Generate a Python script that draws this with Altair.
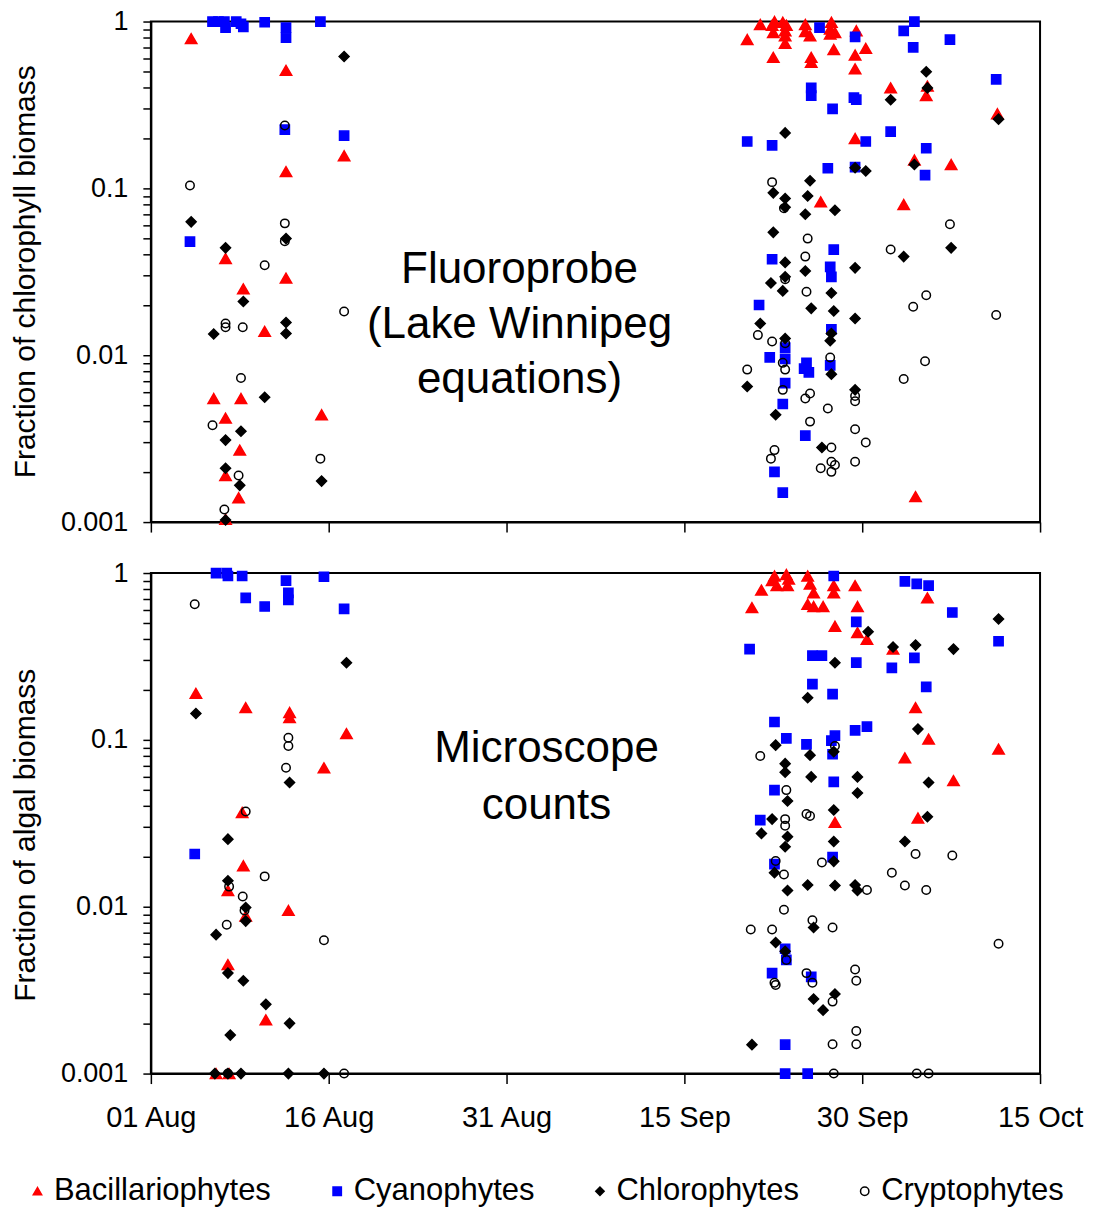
import altair as alt
import pandas as pd

SERIES = ["Bacillariophytes", "Cyanophytes", "Chlorophytes", "Cryptophytes"]

# x: days after 01 Aug ; y: fraction of biomass
xtick_days = [0, 15, 30, 45, 60, 75]
xtick_labels = ["01 Aug", "16 Aug", "31 Aug", "15 Sep", "30 Sep", "15 Oct"]
ytick_vals = [0.001, 0.002, 0.003, 0.004, 0.005, 0.006, 0.007, 0.008, 0.009,
              0.01, 0.02, 0.03, 0.04, 0.05, 0.06, 0.07, 0.08, 0.09,
              0.1, 0.2, 0.3, 0.4, 0.5, 0.6, 0.7, 0.8, 0.9, 1]
ytick_major = [0.001, 0.01, 0.1, 1]
ytick_major_labels = ["0.001", "0.01", "0.1", "1"]

# ---------------- Fluoroprobe (top) ----------------
fp_bac_day = [3.4, 11.4, 16.3, 11.4, 6.3, 11.4, 7.8, 9.6, 5.3, 7.6, 14.4, 6.3, 7.5, 6.3, 7.4, 6.3,
              51.4, 52.6, 52.4, 52.5, 53.3, 53.6, 53.5, 53.5, 53.5, 50.3, 52.5, 55.2, 55.2, 55.6, 55.7,
              55.7, 57.4, 57.3, 57.7, 57.3, 57.6, 59.5, 60.3, 59.4, 59.4, 56.5, 59.4, 62.4, 65.5, 65.4,
              71.4, 64.4, 67.5, 63.5, 64.5]
fp_bac_val = [0.79, 0.51, 0.157, 0.126, 0.038, 0.029, 0.025, 0.0139, 0.0055, 0.0055, 0.0044, 0.0042,
              0.0027, 0.0019, 0.0014, 0.00104,
              0.96, 1.0, 0.95, 0.86, 0.99, 0.95, 0.88, 0.82, 0.74, 0.78, 0.61, 0.96, 0.87, 0.82, 0.61,
              0.57, 0.99, 0.90, 0.86, 0.84, 0.68, 0.88, 0.69, 0.63, 0.52, 0.083, 0.199, 0.40, 0.41, 0.36,
              0.28, 0.148, 0.139, 0.080, 0.00142]

fp_cya_day = [5.2, 5.7, 6.2, 6.3, 7.2, 7.6, 7.8, 9.6, 11.4, 11.4, 14.3, 11.3, 16.3, 3.3,
              56.4, 59.4, 55.7, 55.7, 57.5, 59.3, 59.5, 50.3, 52.4, 60.3, 57.1, 59.4, 57.6, 52.4, 57.3,
              57.4, 51.3, 57.4, 52.2, 53.5, 55.3, 55.1, 55.5, 57.3, 53.5, 53.5, 53.3, 55.2, 52.6, 53.3,
              64.4, 63.5, 64.3, 67.4, 71.3, 62.4, 65.4, 65.3]
fp_cya_val = [1.0, 1.0, 1.0, 0.92, 1.0, 0.97, 0.93, 0.99, 0.92, 0.80, 1.0, 0.225, 0.207, 0.048,
              0.92, 0.81, 0.40, 0.36, 0.30, 0.35, 0.34, 0.191, 0.181, 0.191, 0.132, 0.134, 0.043, 0.0376,
              0.0338, 0.0295, 0.0200, 0.0143, 0.0097, 0.0095, 0.0090, 0.0083, 0.0079, 0.0087, 0.0111,
              0.0068, 0.0051, 0.0033, 0.0020, 0.0015,
              1.0, 0.88, 0.70, 0.78, 0.45, 0.219, 0.174, 0.120]

fp_chl_day = [16.3, 3.4, 11.4, 6.3, 7.8, 5.3, 11.4, 11.4, 9.6, 7.6, 6.3, 6.3, 14.4, 7.5, 6.3,
              53.5, 59.4, 60.3, 55.6, 52.5, 53.5, 53.5, 55.4, 55.2, 57.7, 52.5, 53.5, 55.2, 59.4, 52.3,
              53.5, 53.3, 57.4, 55.7, 57.6, 59.4, 51.4, 53.5, 57.4, 57.3, 57.4, 50.3, 59.4, 52.7, 56.6,
              65.4, 62.4, 65.5, 71.5, 64.4, 63.5, 67.5]
fp_chl_val = [0.617, 0.063, 0.050, 0.044, 0.021, 0.0134, 0.0157, 0.0135, 0.0056, 0.0035, 0.0031, 0.0021,
              0.00176, 0.00166, 0.00103,
              0.215, 0.133, 0.127, 0.111, 0.094, 0.087, 0.077, 0.090, 0.070, 0.074, 0.0545, 0.036, 0.032,
              0.0334, 0.0271, 0.0295, 0.0243, 0.0236, 0.0191, 0.0184, 0.0166, 0.0155, 0.0126, 0.0135,
              0.0122, 0.0077, 0.0065, 0.0062, 0.0044, 0.0028,
              0.50, 0.34, 0.40, 0.26, 0.139, 0.039, 0.044]

fp_cry_day = [3.3, 11.3, 11.3, 11.3, 9.6, 16.3, 6.3, 6.3, 7.75, 7.6, 5.2, 14.3, 7.4, 6.2,
              52.4, 53.4, 55.4, 55.2, 53.5, 55.3, 51.2, 52.4, 53.5, 53.3, 53.5, 57.3, 50.3, 53.3, 55.2,
              55.6, 59.4, 59.4, 57.1, 55.6, 59.4, 60.3, 57.4, 52.6, 52.3, 56.5, 57.4, 57.7, 57.4, 59.4,
              67.4, 62.4, 65.4, 64.3, 71.3, 65.3, 63.5]
fp_cry_val = [0.104, 0.238, 0.0617, 0.0482, 0.0346, 0.0183, 0.0155, 0.0147, 0.0147, 0.0073, 0.0038,
              0.0024, 0.0019, 0.00119,
              0.109, 0.076, 0.050, 0.039, 0.0285, 0.0240, 0.0132, 0.0121, 0.0118, 0.0090, 0.0082, 0.0097,
              0.0082, 0.0062, 0.0055, 0.0059, 0.0057, 0.0053, 0.0048, 0.0040, 0.0036, 0.0030, 0.0028,
              0.0027, 0.0024, 0.0021, 0.0023, 0.0022, 0.0020, 0.0023,
              0.061, 0.043, 0.0229, 0.0195, 0.0174, 0.0092, 0.0072]

# ---------------- Microscope counts (bottom) ----------------
mc_bac_day = [3.8, 8.0, 11.7, 11.7, 16.5, 14.6, 7.7, 7.8, 6.5, 8.0, 11.6, 6.5, 9.7, 5.5, 6.6,
              52.6, 52.4, 52.8, 53.6, 53.8, 53.7, 51.5, 50.7, 55.4, 55.6, 55.9, 55.4, 55.9, 56.7, 57.6,
              57.6, 59.4, 59.6, 57.7, 59.6, 60.4, 57.7, 65.5, 62.6, 64.5, 65.6, 63.6, 71.5, 67.7, 64.7]
mc_bac_val = [0.190, 0.156, 0.146, 0.136, 0.109, 0.068, 0.0367, 0.0176, 0.0125, 0.0088, 0.0095, 0.0045,
              0.0021, 0.001, 0.001,
              0.96, 0.90, 0.84, 0.98, 0.92, 0.84, 0.79, 0.62, 0.96, 0.86, 0.76, 0.65, 0.63, 0.63, 0.84,
              0.76, 0.84, 0.63, 0.48, 0.44, 0.40, 0.032, 0.71, 0.35, 0.156, 0.101, 0.078, 0.088, 0.057, 0.034]

mc_cya_day = [5.5, 6.4, 6.5, 7.7, 11.4, 14.6, 8.0, 9.6, 11.6, 11.6, 16.3, 3.7,
              57.6, 59.5, 50.5, 55.8, 56.6, 59.5, 55.8, 57.5, 52.6, 53.6, 55.3, 57.7, 57.4, 57.5, 59.4,
              60.4, 57.6, 52.6, 51.4, 57.5, 52.6, 53.5, 53.6, 52.4, 55.7, 53.5, 53.5, 55.4,
              63.6, 64.6, 65.6, 67.6, 71.5, 64.4, 62.5, 65.4]
mc_cya_val = [1.0, 1.0, 0.96, 0.96, 0.90, 0.95, 0.71, 0.63, 0.76, 0.69, 0.61, 0.0207,
              0.96, 0.51, 0.35, 0.32, 0.32, 0.29, 0.216, 0.188, 0.128, 0.102, 0.094, 0.106, 0.099, 0.082,
              0.114, 0.120, 0.056, 0.050, 0.033, 0.0198, 0.0180, 0.0056, 0.0048, 0.0040, 0.0038, 0.00149,
              0.001, 0.001,
              0.89, 0.86, 0.84, 0.58, 0.39, 0.31, 0.27, 0.208]

mc_chl_day = [16.5, 3.8, 11.7, 6.5, 6.5, 8.0, 8.0, 5.5, 6.5, 7.8, 9.7, 11.7, 6.7, 5.4, 6.5, 7.6, 11.6, 14.6,
              60.5, 57.7, 55.4, 52.7, 55.6, 57.6, 53.5, 53.5, 55.7, 59.6, 59.6, 53.7, 57.6, 52.4, 51.5,
              53.7, 53.5, 57.6, 57.6, 52.6, 55.4, 57.7, 59.4, 59.6, 53.7, 55.9, 52.7, 53.5, 57.7, 55.9,
              56.7, 50.7, 62.6, 64.5, 67.7, 71.5, 64.7, 65.6, 65.5, 63.6]
mc_chl_val = [0.29, 0.144, 0.0555, 0.0254, 0.0143, 0.0099, 0.0082, 0.0068, 0.0040, 0.0036, 0.0026, 0.0020,
              0.0017, 0.001, 0.001, 0.001, 0.001, 0.001,
              0.445, 0.29, 0.179, 0.093, 0.081, 0.085, 0.072, 0.064, 0.060, 0.060, 0.048, 0.043, 0.038,
              0.0335, 0.0275, 0.0263, 0.0229, 0.0246, 0.0187, 0.0160, 0.0135, 0.0134, 0.0135, 0.0125,
              0.0125, 0.0075, 0.0061, 0.0054, 0.0030, 0.0028, 0.0024, 0.00149,
              0.36, 0.37, 0.35, 0.53, 0.116, 0.0555, 0.0346, 0.0246]

mc_cry_day = [3.7, 11.6, 11.6, 11.4, 8.0, 9.6, 6.6, 7.75, 7.9, 6.4, 14.6, 16.3, 6.5,
              57.7, 51.4, 53.6, 55.3, 55.6, 53.5, 53.5, 56.6, 52.7, 53.4, 60.4, 53.4, 55.8, 57.5, 50.6,
              52.4, 53.6, 52.6, 52.7, 55.3, 55.8, 59.4, 59.5, 57.5, 59.5, 59.5, 57.5, 57.6,
              64.5, 67.6, 62.5, 63.6, 65.4, 71.5, 64.6, 65.6]
mc_cry_val = [0.65, 0.103, 0.092, 0.068, 0.0372, 0.0152, 0.0132, 0.0115, 0.0095, 0.0078, 0.0063, 0.001, 0.001,
              0.092, 0.080, 0.050, 0.036, 0.035, 0.0335, 0.0306, 0.0184, 0.0188, 0.0156, 0.0126, 0.0096,
              0.0083, 0.0075, 0.0073, 0.0073, 0.0048, 0.0035, 0.0034, 0.0040, 0.0035, 0.0042, 0.0036,
              0.0027, 0.0018, 0.0015, 0.0015, 0.001,
              0.0207, 0.0203, 0.0160, 0.0134, 0.0126, 0.0060, 0.001, 0.001]

FONT = "Liberation Sans"
SHAPES = ["triangle-up", "square", "diamond", "circle"]
FILLS = ["#ff0000", "#0000ff", "#000000", "transparent"]
STROKES = ["#ff0000", "#0000ff", "#000000", "#000000"]
SIZES = [130, 85, 100, 72]


def make_df(groups):
    frames = []
    for name, days, vals in groups:
        frames.append(pd.DataFrame({"day": days, "value": vals, "group": name}))
    return pd.concat(frames, ignore_index=True)


fp_df = make_df([(SERIES[0], fp_bac_day, fp_bac_val), (SERIES[1], fp_cya_day, fp_cya_val),
                 (SERIES[2], fp_chl_day, fp_chl_val), (SERIES[3], fp_cry_day, fp_cry_val)])
mc_df = make_df([(SERIES[0], mc_bac_day, mc_bac_val), (SERIES[1], mc_cya_day, mc_cya_val),
                 (SERIES[2], mc_chl_day, mc_chl_val), (SERIES[3], mc_cry_day, mc_cry_val)])

xexpr = " : ".join(f"datum.value == {d} ? '{l}'" for d, l in zip(xtick_days, xtick_labels)) + " : ''"
yexpr = " : ".join(f"datum.value == {v} ? '{l}'" for v, l in zip(ytick_major, ytick_major_labels)) + " : ''"

W, H = 890, 501

LEG = alt.Legend(orient="none", legendX=-129, legendY=1155, direction="horizontal", columns=4,
                 title=None, padding=0)


def panel(df, ytitle, title_y, lines, tx, ty, lh, show_xlabels):
    enc = dict(
        x=alt.X("day:Q", scale=alt.Scale(domain=[0, 75], nice=False, zero=False),
                axis=alt.Axis(values=xtick_days, labels=show_xlabels, labelExpr=xexpr, title=None,
                              tickSize=10, labelPadding=20, labelFontSize=29)),
        y=alt.Y("value:Q", scale=alt.Scale(type="log", domain=[0.001, 1], nice=False),
                axis=alt.Axis(values=ytick_vals, labelExpr=yexpr, title=ytitle, tickSize=8,
                              labelPadding=15, titlePadding=20, titleY=title_y)),
        shape=alt.Shape("group:N", scale=alt.Scale(domain=SERIES, range=SHAPES), legend=LEG),
        fill=alt.Fill("group:N", scale=alt.Scale(domain=SERIES, range=FILLS), legend=LEG),
        stroke=alt.Stroke("group:N", scale=alt.Scale(domain=SERIES, range=STROKES), legend=LEG),
    )
    layers = []
    for name, sz in zip(SERIES, SIZES):
        layers.append(
            alt.Chart(df).transform_filter(alt.datum.group == name)
            .mark_point(filled=True, opacity=1, strokeWidth=1.5, size=sz).encode(**enc)
        )
    txt = alt.Chart(pd.DataFrame({"k": [0]})).mark_text(
        text=lines, font=FONT, fontSize=44, lineHeight=lh, align="center", baseline="middle",
        color="black").encode(x=alt.value(tx), y=alt.value(ty))
    return alt.layer(*layers, txt).properties(width=W, height=H)


top = panel(fp_df, "Fraction of chlorophyll biomass", 250,
            ["Fluoroprobe", "(Lake Winnipeg", "equations)"], 369, 249, 55, False)
bottom = panel(mc_df, "Fraction of algal biomass", 262, ["Microscope", "counts"], 396, 176, 57, True)

chart = alt.vconcat(top, bottom, spacing=22).properties(
    padding={"left": 9, "top": 6, "right": 10, "bottom": 0}, background="white"
).configure_view(stroke="black", strokeWidth=2).configure_axis(
    domainColor="black", domainWidth=2, tickColor="black", tickWidth=1.5, grid=False,
    labelFont=FONT, labelFontSize=27, labelColor="black", labelFlush=False, labelOverlap=False,
    titleFont=FONT, titleFontSize=30, titleFontWeight="normal", titleColor="black"
).configure_legend(
    labelFont=FONT, labelFontSize=31, labelColor="black", symbolSize=70, symbolStrokeWidth=1.5,
    columnPadding=50, labelOffset=1, labelLimit=400
)

chart.save("out.html", embed_options={"renderer": "svg", "actions": False})
